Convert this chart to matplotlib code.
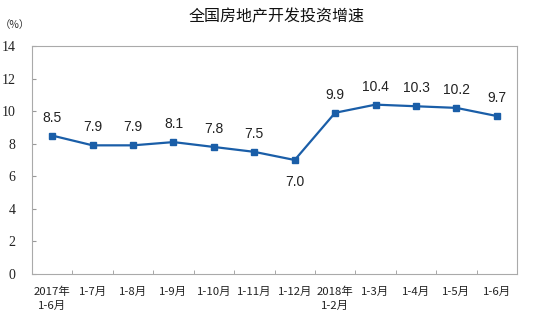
import matplotlib
matplotlib.use("Agg")
import matplotlib.pyplot as plt
import numpy as np

plt.rcParams['font.family'] = ['Noto Sans CJK SC', 'DejaVu Sans']

categories = ["2017年\n1-6月", "1-7月", "1-8月", "1-9月", "1-10月", "1-11月", "1-12月",
              "2018年\n1-2月", "1-3月", "1-4月", "1-5月", "1-6月"]
values = [8.5, 7.9, 7.9, 8.1, 7.8, 7.5, 7.0, 9.9, 10.4, 10.3, 10.2, 9.7]
yticks = [0, 2, 4, 6, 8, 10, 12, 14]
title = "全国房地产开发投资增速"

W, H = 533, 317
fig = plt.figure(figsize=(W/100, H/100), dpi=100)
ax = fig.add_axes([32/W, 1-274/H, (517-32)/W, (274-46)/H])

x = np.arange(len(values))
color = "#1a5ea8"
ax.plot(x, values, color=color, lw=1.6, marker="s", ms=4.5, mfc=color, mec=color)

for xi, v in zip(x, values):
    dy = -16 if v == min(values) else 13
    ax.annotate(f"{v:.1f}", (xi, v), xytext=(0, dy), textcoords="offset points",
                ha="center", va="center", fontsize=10, color="#222222",
                family=["Liberation Sans"])

ax.set_xlim(-0.5, len(values) - 0.5)
ax.set_ylim(0, 14)
ax.set_yticks(yticks)
ax.set_yticklabels([str(t) for t in yticks], family=["Liberation Serif"], fontsize=10,
                   color="#222222")
ax.tick_params(axis="y", direction="in", length=3, color="#999999", pad=12)

ax.set_xticks(x)
ax.set_xticklabels(categories, fontsize=8.2, linespacing=1.45, color="#222222")
ax.tick_params(axis="x", length=0, pad=9)
ax.set_xticks(np.arange(len(values) + 1) - 0.5, minor=True)
ax.tick_params(axis="x", which="minor", direction="in", length=3, color="#999999")

for s in ax.spines.values():
    s.set_color("#aaaaaa")
    s.set_linewidth(0.8)

fig.text(277/W, 1-17/H, title, ha="center", va="center", fontsize=11.5, color="#111111")
fig.text(0/W, 1-25/H, "（%）", ha="left", va="center", fontsize=7.5, color="#333333")

fig.savefig("out.png", dpi=100)
